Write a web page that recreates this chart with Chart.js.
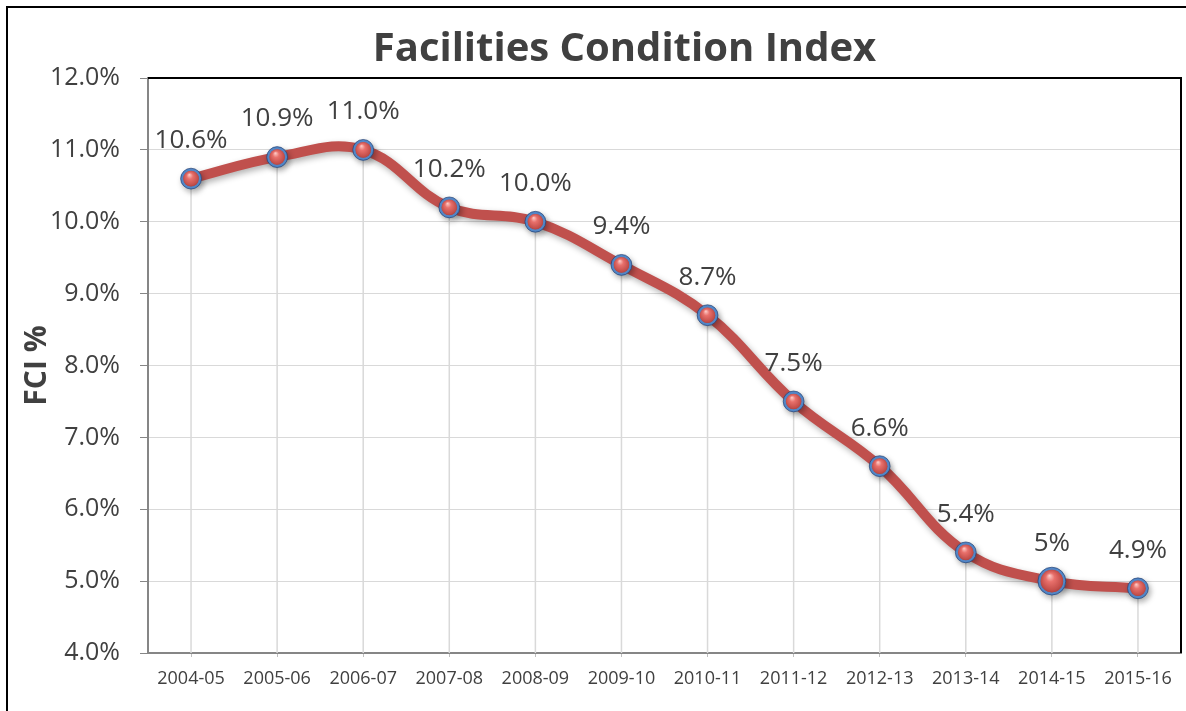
<!DOCTYPE html>
<html>
<head>
<meta charset="utf-8">
<title>Facilities Condition Index</title>
<script src="https://cdn.jsdelivr.net/npm/chart.js@4.4.1/dist/chart.umd.min.js"></script>
<style>
  html, body { margin: 0; padding: 0; background: #fff; overflow: hidden; }
  .frame {
    position: absolute; left: 6px; top: 6px; width: 1240px; height: 760px;
    border-left: 2px solid #000; border-top: 2px solid #000;
  }
  .wrap { position: absolute; left: 0; top: 0; width: 1186px; height: 711px; }
</style>
</head>
<body>
<div class="frame"></div>
<div class="wrap"><canvas id="fciChart"></canvas></div>
<script>
// ---- data ----
const chartTitle = 'Facilities Condition Index';
const years = ['2004-05', '2005-06', '2006-07', '2007-08', '2008-09', '2009-10',
               '2010-11', '2011-12', '2012-13', '2013-14', '2014-15', '2015-16'];
const fciValues = [10.6, 10.9, 11.0, 10.2, 10.0, 9.4, 8.7, 7.5, 6.6, 5.4, 5.0, 4.9];
const valueLabels = ['10.6%', '10.9%', '11.0%', '10.2%', '10.0%', '9.4%',
                     '8.7%', '7.5%', '6.6%', '5.4%', '5%', '4.9%'];
const yTicks = [4, 5, 6, 7, 8, 9, 10, 11, 12];

const TEXT = '#404040';
const FONT = "'Open Sans', 'Liberation Sans', sans-serif";

// drop lines, line shadow, sphere points, value labels, plot border, title
const decor = {
  id: 'decor',
  beforeDatasetsDraw(chart) {
    const { ctx, chartArea } = chart;
    const meta = chart.getDatasetMeta(0);
    ctx.save();
    ctx.strokeStyle = '#d9d9d9';
    ctx.lineWidth = 1.5;
    meta.data.forEach(pt => {
      ctx.beginPath();
      ctx.moveTo(pt.x, pt.y);
      ctx.lineTo(pt.x, chartArea.bottom);
      ctx.stroke();
    });
    ctx.restore();
  },
  beforeDatasetDraw(chart) {
    const ctx = chart.ctx;
    ctx.save();
    ctx.shadowColor = 'rgba(0,0,0,0.3)';
    ctx.shadowBlur = 6;
    ctx.shadowOffsetX = 2;
    ctx.shadowOffsetY = 3;
  },
  afterDatasetDraw(chart) {
    chart.ctx.restore();
  },
  afterDatasetsDraw(chart) {
    const { ctx, chartArea } = chart;
    const meta = chart.getDatasetMeta(0);
    ctx.save();
    meta.data.forEach((pt, i) => {
      const r = pt.options.radius;
      // glossy red ball
      const g = ctx.createRadialGradient(pt.x - r * 0.2, pt.y - r * 0.45, 0, pt.x, pt.y, r);
      g.addColorStop(0, '#ffd0cc');
      g.addColorStop(0.35, '#e8706b');
      g.addColorStop(0.8, '#c44f4b');
      g.addColorStop(1, '#a33c39');
      ctx.beginPath();
      ctx.arc(pt.x, pt.y, r - 1.2, 0, Math.PI * 2);
      ctx.fillStyle = g;
      ctx.fill();
      ctx.beginPath();
      ctx.arc(pt.x, pt.y, r + 1.4, 0, Math.PI * 2);
      ctx.strokeStyle = 'rgba(30,60,110,0.65)';
      ctx.lineWidth = 1;
      ctx.stroke();

      ctx.fillStyle = TEXT;
      ctx.font = '26px ' + FONT;
      ctx.textAlign = 'center';
      ctx.textBaseline = 'middle';
      ctx.fillText(valueLabels[i], pt.x, pt.y - 38);
    });
    // black border on top and right of plot area
    ctx.strokeStyle = '#000';
    ctx.lineWidth = 2;
    ctx.beginPath();
    ctx.moveTo(chartArea.left, chartArea.top);
    ctx.lineTo(chartArea.right, chartArea.top);
    ctx.lineTo(chartArea.right, chartArea.bottom);
    ctx.stroke();

    // chart title, centred a little left of the plot centre as in the original
    ctx.fillStyle = TEXT;
    ctx.font = 'bold 40px ' + FONT;
    ctx.textAlign = 'center';
    ctx.textBaseline = 'middle';
    ctx.fillText(chartTitle, (chartArea.left + chartArea.right) / 2 - 40, chartArea.top - 28);
    ctx.restore();
  }
};

new Chart(document.getElementById('fciChart'), {
  type: 'line',
  data: {
    labels: years,
    datasets: [{
      label: 'FCI %',
      data: fciValues,
      borderColor: '#C0504D',
      borderWidth: 10,
      tension: 0.4,
      fill: false,
      pointBackgroundColor: '#C9504C',
      pointBorderColor: '#5286C6',
      pointBorderWidth: 3,
      pointRadius: c => years[c.dataIndex] === '2014-15' ? 12.5 : 9,
      pointHoverRadius: c => years[c.dataIndex] === '2014-15' ? 12.5 : 9
    }]
  },
  options: {
    responsive: true,
    maintainAspectRatio: false,
    animation: false,
    layout: { autoPadding: false, padding: { left: 12, right: 5, top: 78, bottom: 0 } },
    plugins: {
      legend: { display: false },
      tooltip: { enabled: false },
      title: { display: false }
    },
    scales: {
      x: {
        offset: true,
        grid: { drawOnChartArea: false, drawTicks: true, tickLength: 4, tickColor: '#bfbfbf', offset: false },
        border: { color: '#868686', width: 2 },
        ticks: { color: TEXT, font: { family: FONT, size: 18 }, padding: 11, maxRotation: 0, autoSkip: false },
        afterFit: s => { s.height = 58; }
      },
      y: {
        min: yTicks[0],
        max: yTicks[yTicks.length - 1],
        afterBuildTicks: s => { s.ticks = yTicks.map(v => ({ value: v })); },
        grid: { color: '#d9d9d9', lineWidth: 1, tickLength: 8, tickColor: '#868686' },
        border: { color: '#868686', width: 2 },
        ticks: { color: TEXT, font: { family: FONT, size: 25 }, padding: 20,
                 callback: v => v.toFixed(1) + '%' },
        title: {
          display: true,
          text: 'FCI %',
          color: TEXT,
          font: { family: FONT, size: 30, weight: 'bold', lineHeight: 1.2 },
          padding: { top: 7, bottom: 0 }
        },
        afterFit: s => { s.width = 136; }
      }
    }
  },
  plugins: [decor]
});
</script>
</body>
</html>
